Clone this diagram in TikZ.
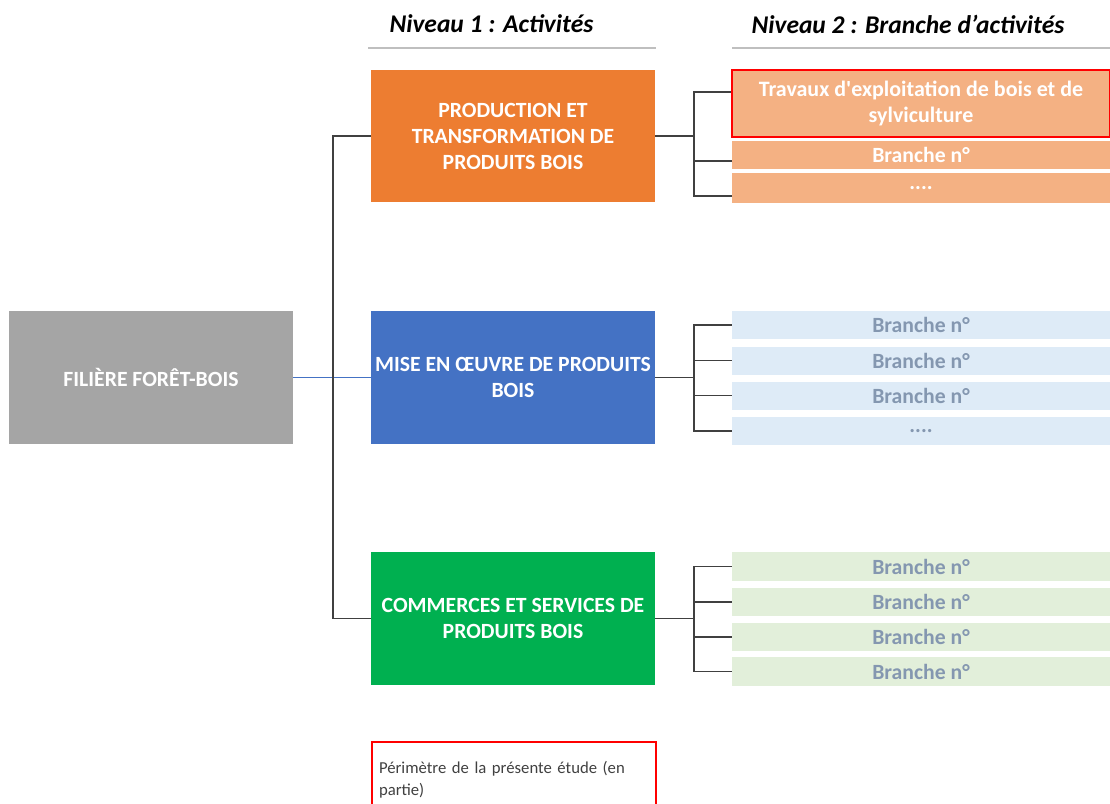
\documentclass[tikz,border=0pt]{standalone}
\usepackage{fontspec}
\setmainfont{Carlito}
\usepackage{xcolor}
\definecolor{rootgray}{HTML}{A5A5A5}
\definecolor{prodorange}{HTML}{ED7D31}
\definecolor{miseblue}{HTML}{4472C4}
\definecolor{commgreen}{HTML}{00B050}
\definecolor{lightorange}{HTML}{F4B183}
\definecolor{lightblue}{HTML}{DEEBF7}
\definecolor{lightgreen}{HTML}{E2EFDA}
\definecolor{branchtext}{HTML}{8497B0}
\definecolor{rulegray}{HTML}{BFBFBF}
\definecolor{linkgray}{HTML}{404040}
\usepackage{tikz}
\newcommand{\morebranches}{....}

\begin{document}
\begin{tikzpicture}[x=1pt, y=-1pt,
  activity/.style={minimum width=284pt, minimum height=133pt, inner sep=0pt, align=center,
    text=white, font=\fontsize{21.7}{26}\selectfont\bfseries},
  branchbox/.style={minimum width=378pt, inner sep=0pt, align=center,
    font=\fontsize{21.7}{26}\selectfont\bfseries},
  link/.style={draw=linkgray, line width=1.5pt},
  heading/.style={anchor=west, font=\fontsize{25.5}{28}\selectfont\bfseries\itshape}]
  \clip (0,0) rectangle (1110,803);

  % headings
  \node[heading] (niveau1) at (386,24) {Niveau 1 : Activités};
  \node[heading] (niveau2) at (748,24) {Niveau 2 : Branche d’activités};
  \draw[rulegray, line width=1.2pt] (368,48) -- (656,48);
  \draw[rulegray, line width=1.2pt] (732,48) -- (1110,48);

  % root and level 1
  \node[activity, fill=rootgray] (filiere) at (151,377.5) {FILIÈRE FORÊT-BOIS};
  \node[activity, fill=prodorange, minimum height=132pt] (production) at (513,136)
    {PRODUCTION ET\\TRANSFORMATION DE\\PRODUITS BOIS};
  \node[activity, fill=miseblue] (mise) at (513,377.5) {MISE EN ŒUVRE DE PRODUITS\\BOIS};
  \node[activity, fill=commgreen] (commerce) at (513,618.5) {COMMERCES ET SERVICES DE\\PRODUITS BOIS};

  % level 2
  \node[branchbox, fill=lightorange, draw=red, line width=2pt, minimum height=67pt, text=white,
    font=\fontsize{22}{26}\selectfont\bfseries]
    (travaux) at (921,103) {Travaux d\textquotesingle exploitation de bois et de\\sylviculture};
  \node[branchbox, fill=lightorange, text=white, minimum height=28pt] (prod2) at (921,155) {Branche n°};
  \node[branchbox, fill=lightorange, text=white, minimum height=30pt] (prod3) at (921,188) {\morebranches};

  \foreach \n/\yy/\lbl in {1/325/Branche n°, 2/360.5/Branche n°, 3/395.5/Branche n°, 4/431/\morebranches}{
    \node[branchbox, fill=lightblue, text=branchtext, minimum height=28pt] (mise\n) at (921,\yy) {\lbl};
  }
  \foreach \n/\yy in {1/566.5, 2/602, 3/637, 4/671.5}{
    \node[branchbox, fill=lightgreen, text=branchtext, minimum height=28.5pt] (comm\n) at (921,\yy) {Branche n°};
  }

  % connectors
  \coordinate (trunk) at (333,377.5);
  \draw[miseblue, line width=1.5pt] (filiere.east) -- (mise.west);
  \draw[link] (production.west) -| (trunk) |- (commerce.west);

  \coordinate (forkprod) at (694,136);
  \draw[link] (production.east) -- (forkprod);
  \draw[link] (forkprod) |- ([yshift=11pt]travaux.west);
  \draw[link] (forkprod) |- ([yshift=-6pt]prod2.west);
  \draw[link] (forkprod) |- ([yshift=-8pt]prod3.west);

  \coordinate (forkmise) at (694,377.5);
  \draw[link] (mise.east) -- (forkmise);
  \foreach \n in {1,...,4}{
    \draw[link] (forkmise) |- (mise\n.west);
  }

  \coordinate (forkcomm) at (694,618.5);
  \draw[link] (commerce.east) -- (forkcomm);
  \foreach \n in {1,...,4}{
    \draw[link] (forkcomm) |- (comm\n.west);
  }

  % legend
  \node[draw=red, line width=2pt, minimum width=284pt, minimum height=76pt, anchor=north west,
    inner xsep=7pt, text width=270pt, align=left, text=black!75,
    font=\fontsize{16.7}{22}\selectfont] (perimetre) at (371,741)
    {Périmètre de la présente étude (en\\partie)};
\end{tikzpicture}
\end{document}
